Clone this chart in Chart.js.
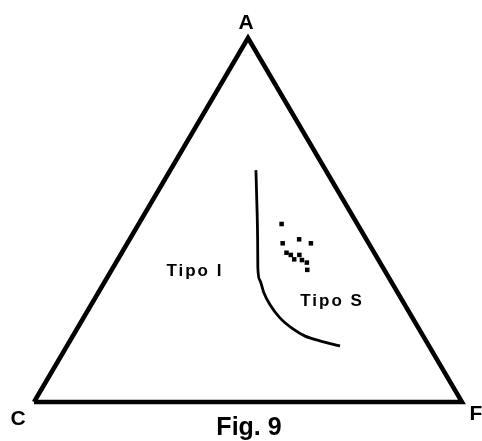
<!DOCTYPE html>
<html>
<head>
<meta charset="utf-8">
<style>
  html, body { margin: 0; padding: 0; background: #fff; }
  #wrap { width: 482px; height: 441px; position: relative; }
</style>
<script src="https://cdn.jsdelivr.net/npm/chart.js@4"></script>
</head>
<body>
<div id="wrap"><canvas id="c" width="482" height="441"></canvas></div>
<script>
// Ternary compositions as [A, C, F] in percent
const vertices = { A: [100, 0, 0], C: [0, 100, 0], F: [0, 0, 100] };

// Boundary between Tipo I and Tipo S fields
const boundaryA = [63.7, 55.5, 44.5, 36.8, 33.5, 30.0, 26.7, 23.1, 20.3, 18.1, 16.8, 15.4];
const boundaryC = [16.3, 20.2, 25.5, 29.3, 30.5, 31.3, 31.5, 31.0, 29.6, 27.6, 24.8, 20.8];
const boundaryF = [20.0, 24.3, 30.0, 33.9, 36.0, 38.7, 41.8, 45.9, 50.1, 54.3, 58.4, 63.8];

// Analysed samples
const sampleA = [48.9, 43.6, 44.7, 43.6, 41.0, 40.4, 39.2, 40.4, 39.0, 38.3, 36.3];
const sampleC = [17.7, 20.1, 15.7, 13.5, 20.5, 19.8, 19.6, 17.8, 17.9, 17.1, 18.0];
const sampleF = [33.4, 36.3, 39.6, 42.9, 38.5, 39.8, 41.2, 41.8, 43.1, 44.6, 45.7];

// Field labels and their compositions
const fieldLabels = ['Tipo I', 'Tipo S'];
const fieldA = [36.0, 27.7];
const fieldC = [44.4, 16.5];
const fieldF = [19.6, 55.8];

const title = 'Fig. 9';

// Convert a composition to plot coordinates (C at left, F at right, A on top)
function toXY(a, c, f) {
  const s = a + c + f;
  return { x: (f + a / 2) / s * 100, y: a / s * 100 };
}

const trianglePts = ['C', 'A', 'F', 'C'].map(k => toXY(...vertices[k]));
const boundaryPts = boundaryA.map((a, i) => toXY(a, boundaryC[i], boundaryF[i]));
const samplePts = sampleA.map((a, i) => toXY(a, sampleC[i], sampleF[i]));

const labelsPlugin = {
  id: 'ternaryLabels',
  afterDatasetsDraw(chart) {
    const { ctx, scales: { x, y } } = chart;
    ctx.save();
    ctx.fillStyle = '#000';
    ctx.textAlign = 'center';
    ctx.textBaseline = 'middle';

    // Vertex names
    ctx.font = 'bold 21px "Liberation Sans Narrow", "Liberation Sans", Arial, sans-serif';
    const pa = toXY(...vertices.A), pc = toXY(...vertices.C), pf = toXY(...vertices.F);
    ctx.fillText('A', x.getPixelForValue(pa.x) - 2, y.getPixelForValue(pa.y) - 15);
    ctx.fillText('C', x.getPixelForValue(pc.x) - 16, y.getPixelForValue(pc.y) + 17);
    ctx.fillText('F', x.getPixelForValue(pf.x) + 14, y.getPixelForValue(pf.y) + 12);

    // Field names
    ctx.font = 'bold 17px "Liberation Sans Narrow", "Liberation Sans", Arial, sans-serif';
    if ('letterSpacing' in ctx) ctx.letterSpacing = '2px';
    fieldLabels.forEach((t, i) => {
      const p = toXY(fieldA[i], fieldC[i], fieldF[i]);
      ctx.fillText(t, x.getPixelForValue(p.x), y.getPixelForValue(p.y));
    });
    if ('letterSpacing' in ctx) ctx.letterSpacing = '0px';

    // Caption
    ctx.font = 'bold 25px "Liberation Sans Narrow", "Liberation Sans", Arial, sans-serif';
    ctx.fillText(title, x.getPixelForValue(50) + 1, y.getPixelForValue(0) + 26);
    ctx.restore();
  }
};

new Chart(document.getElementById('c'), {
  type: 'scatter',
  data: {
    datasets: [
      {
        label: 'triangle',
        data: trianglePts,
        showLine: true,
        borderColor: '#000',
        borderWidth: 4.5,
        borderJoinStyle: 'miter',
        pointRadius: 0,
        clip: false,
        order: 3
      },
      {
        label: 'boundary',
        data: boundaryPts,
        showLine: true,
        borderColor: '#000',
        borderWidth: 2.8,
        tension: 0.35,
        cubicInterpolationMode: 'monotone',
        pointRadius: 0,
        clip: false,
        order: 2
      },
      {
        label: 'samples',
        data: samplePts,
        showLine: false,
        pointStyle: 'rect',
        pointRadius: 3.2,
        backgroundColor: '#000',
        borderColor: '#000',
        borderWidth: 0,
        clip: false,
        order: 1
      }
    ]
  },
  options: {
    responsive: false,
    animation: false,
    events: [],
    layout: { padding: { left: 34, right: 20, top: 38, bottom: 39 } },
    scales: {
      x: { type: 'linear', min: 0, max: 100, display: false },
      y: { type: 'linear', min: 0, max: 100, display: false }
    },
    plugins: {
      legend: { display: false },
      tooltip: { enabled: false },
      title: { display: false }
    }
  },
  plugins: [labelsPlugin]
});
</script>
</body>
</html>
